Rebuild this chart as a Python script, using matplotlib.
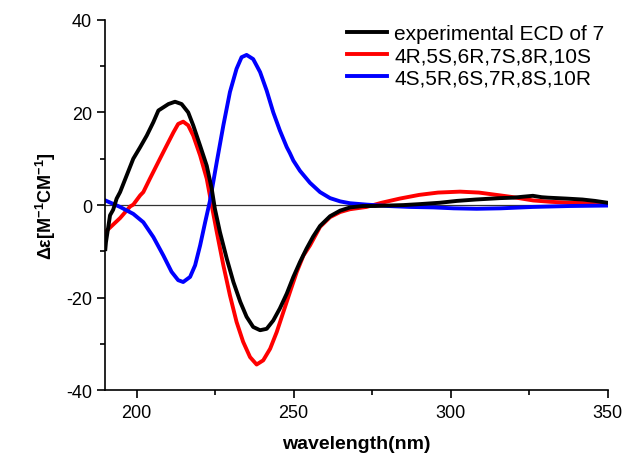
import matplotlib
matplotlib.use('Agg')
from matplotlib import pyplot as plt
from matplotlib.ticker import MultipleLocator

plt.rcParams['font.family'] = ['Liberation Sans', 'DejaVu Sans']
plt.rcParams['axes.unicode_minus'] = False
plt.rcParams['mathtext.fontset'] = 'custom'
plt.rcParams['mathtext.rm'] = 'Liberation Sans'
plt.rcParams['mathtext.bf'] = 'Liberation Sans:bold'
plt.rcParams['mathtext.default'] = 'bf'

# experimental ECD of 7
exp_x = [190, 190.2, 191.5, 192.5, 193.6, 194.7, 196.8, 198.9, 201.1, 203.2, 205.3,
         206.9, 208.5, 210.1, 212.2, 214.3, 216.4, 218.0, 220.2, 222.3, 223.9,
         224.9, 226.5, 228.7, 230.8, 233.0, 235.0, 237.1, 239.3, 241.4, 243.5,
         245.6, 247.8, 249.9, 252.0, 254.1, 256.2, 258.4, 261.6, 264.8, 268,
         272, 276, 280, 285, 290, 296.5, 302, 308, 315.7, 320, 323, 326.2, 329,
         331, 334, 336.9, 342, 346, 350]
exp_y = [-9.5, -8.0, -2.2, -1.0, 1.4, 2.8, 6.4, 10.0, 12.5, 15.0, 17.9,
         20.4, 21.1, 21.8, 22.3, 21.8, 20.0, 17.2, 12.8, 8.5, 3.5,
         -0.8, -5.8, -11.6, -16.6, -20.9, -24.1, -26.3, -27.0, -26.7, -24.9,
         -22.3, -19.1, -15.5, -12.3, -9.4, -6.8, -4.5, -2.4, -1.2, -0.5,
         -0.2, -0.2, -0.1, 0.0, 0.2, 0.5, 0.9, 1.2, 1.5, 1.6, 1.8, 2.0, 1.7,
         1.6, 1.5, 1.4, 1.2, 0.9, 0.5]

# 4R,5S,6R,7S,8R,10S
red_x = [190, 194.7, 197.9, 198.9, 201.1, 202.1, 204.2, 207.4, 209.5, 211.7, 213.2,
         214.8, 216.4, 218.0, 220.2, 222.3, 223.9, 225.5, 227.6, 229.7, 231.8,
         233.9, 236.1, 238.2, 240.3, 242.5, 244.6, 246.7, 248.8, 251.0, 253.1,
         255.2, 258.4, 261.6, 264.8, 267.9, 273.2, 278, 283.8, 290, 296, 303,
         309, 315.7, 320, 326.3, 332, 338, 344, 350]
red_y = [-5.8, -2.8, -0.3, 0.1, 2.1, 2.8, 5.7, 10.0, 12.8, 15.7, 17.5,
         18.0, 17.2, 15.0, 10.7, 5.7, -0.1, -5.8, -13.0, -19.5, -25.2,
         -29.5, -32.8, -34.4, -33.5, -31.0, -27.4, -23.1, -18.8, -14.4, -10.9,
         -8.7, -4.7, -2.6, -1.5, -0.9, -0.4, 0.5, 1.4, 2.2, 2.7, 2.9,
         2.7, 2.1, 1.7, 1.0, 0.7, 0.5, 0.4, 0.3]

# 4S,5R,6S,7R,8S,10R
blue_x = [190, 194.7, 198.9, 202.1, 205.3, 208.5, 211.1, 213.2, 214.8, 217.0, 218.6,
          220.2, 221.8, 223.3, 225.5, 227.6, 229.7, 231.8, 233.4, 235.0, 237.1,
          239.3, 241.4, 243.5, 245.6, 247.8, 248.8, 249.9, 252.0, 255.2, 258.4,
          261.6, 264.8, 267.9, 273.2, 280, 287, 294.5, 301, 308.3, 316, 326.2,
          338, 350]
blue_y = [1.0, -0.4, -1.9, -3.7, -6.9, -10.9, -14.4, -16.2, -16.6, -15.5, -13.0,
          -8.7, -3.7, 0.8, 9.3, 17.2, 24.4, 29.4, 31.9, 32.4, 31.5,
          28.7, 24.7, 20.0, 16.1, 12.5, 11.2, 9.6, 7.4, 4.8, 2.8,
          1.5, 0.8, 0.4, 0.1, -0.2, -0.4, -0.5, -0.7, -0.8, -0.7, -0.4,
          -0.2, -0.1]

fig = plt.figure(figsize=(6.27, 4.6), dpi=100)
ax = fig.add_axes([0.168, 0.149, 0.801, 0.806])

ax.axhline(0, color='#333333', lw=0.9, zorder=1)
ax.plot(exp_x, exp_y, color='black', lw=2.8, label='experimental ECD of 7', zorder=3,
        solid_joinstyle='round')
ax.plot(red_x, red_y, color='#ff0000', lw=2.8, label='4R,5S,6R,7S,8R,10S', zorder=2,
        solid_joinstyle='round')
ax.plot(blue_x, blue_y, color='#0000ff', lw=2.8, label='4S,5R,6S,7R,8S,10R', zorder=2,
        solid_joinstyle='round')

ax.set_xlim(190, 350)
ax.set_ylim(-40, 40)
ax.xaxis.set_major_locator(MultipleLocator(50))
ax.xaxis.set_minor_locator(MultipleLocator(25))
ax.yaxis.set_major_locator(MultipleLocator(20))
ax.yaxis.set_minor_locator(MultipleLocator(10))
ax.spines['top'].set_visible(False)
ax.spines['right'].set_visible(False)
for s in ['left', 'bottom']:
    ax.spines[s].set_linewidth(1.2)
ax.tick_params(which='major', direction='out', length=6, width=1.2, labelsize=13)
ax.tick_params(which='minor', direction='out', length=3.5, width=1.2)

ax.set_xlabel('wavelength(nm)', fontsize=14, fontweight='bold', labelpad=10)
ax.set_ylabel(r'Δε[M$^{-1}$CM$^{-1}$]', fontsize=13, fontweight='bold', labelpad=6)

ax.legend(loc='upper right', frameon=False, fontsize=15, handlelength=1.9,
          handletextpad=0.35, labelspacing=0.15, borderaxespad=0.0,
          bbox_to_anchor=(1.01, 1.01))

fig.savefig('out.png', dpi=100)
